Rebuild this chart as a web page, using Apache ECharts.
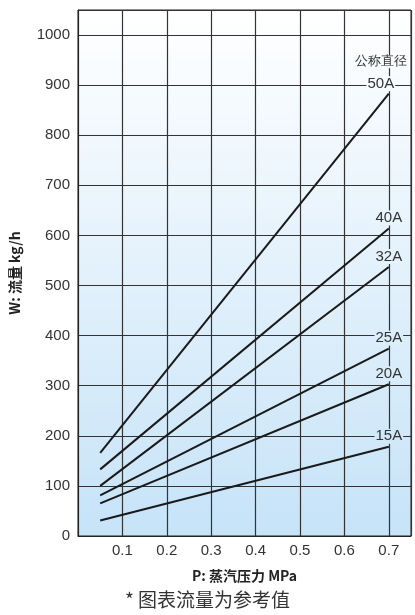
<!DOCTYPE html>
<html>
<head>
<meta charset="utf-8">
<script src="https://cdn.jsdelivr.net/npm/echarts@6/dist/echarts.min.js"></script>
<style>
  html, body { margin: 0; padding: 0; background: #fff; }
  #main { width: 415px; height: 615px; }
</style>
</head>
<body>
<div id="main"></div>
<script>
// pressure points (MPa) where each curve starts / ends
var pressure = [0.05, 0.7];
// flow (kg/h) per nominal diameter, read at the two pressures
var sizes = ['50A', '40A', '32A', '25A', '20A', '15A'];
var flow50 = [166, 883];
var flow40 = [133, 614];
var flow32 = [100, 537];
var flow25 = [81, 374];
var flow20 = [65, 303];
var flow15 = [31, 178];
var flows = [flow50, flow40, flow32, flow25, flow20, flow15];

var yMax = 1050;
var topColor = [255, 255, 255];
var bottomColor = [198, 227, 248];

// background colour of the plot at a given flow value (for label patches)
function bgAt(v) {
    var f = 1 - v / yMax; // 0 at top, 1 at bottom
    var c = topColor.map(function (t, i) {
        return Math.round(t + (bottomColor[i] - t) * f);
    });
    return 'rgb(' + c.join(',') + ')';
}

var chart = echarts.init(document.getElementById('main'));

var series = sizes.map(function (name, i) {
    var vals = flows[i];
    var last = vals[vals.length - 1];
    var label;
    if (name === '50A') {
        label = {
            show: true,
            position: 'top',
            distance: 0,
            offset: [-8, 0],
            formatter: '{t|公称直径}\n{n|50A}',
            rich: {
                t: { fontSize: 13, lineHeight: 24, color: '#333', backgroundColor: bgAt(last + 45), padding: [0, 1] },
                n: { fontSize: 15, lineHeight: 20, color: '#333', backgroundColor: bgAt(last + 20), padding: [0, 1] }
            }
        };
    } else {
        label = {
            show: true,
            position: 'top',
            distance: 3,
            formatter: name,
            fontSize: 15,
            color: '#333',
            backgroundColor: bgAt(last + 20),
            padding: [0, 1]
        };
    }
    var data = vals.map(function (v, j) {
        if (j === vals.length - 1) {
            return { value: [pressure[j], v], label: label };
        }
        return [pressure[j], v];
    });
    return {
        name: name,
        type: 'line',
        data: data,
        symbol: 'circle',
        symbolSize: 0,
        showSymbol: true,
        silent: true,
        animation: false,
        lineStyle: { color: '#1a1a1a', width: 2 },
        itemStyle: { color: '#1a1a1a' },
        label: { show: false }
    };
});

var option = {
    animation: false,
    title: {
        text: '* 图表流量为参考值',
        left: 'center',
        bottom: 1,
        textStyle: { fontSize: 19, fontWeight: 'normal', color: '#333', fontFamily: 'Noto Sans CJK SC' }
    },
    grid: {
        left: 75,
        right: 4,
        top: 10,
        bottom: 79,
        show: true,
        borderColor: '#222',
        borderWidth: 1,
        backgroundColor: new echarts.graphic.LinearGradient(0, 0, 0, 1, [
            { offset: 0, color: 'rgb(' + topColor.join(',') + ')' },
            { offset: 1, color: 'rgb(' + bottomColor.join(',') + ')' }
        ])
    },
    xAxis: {
        type: 'value',
        min: 0,
        max: 0.75,
        interval: 0.1,
        name: 'P: 蒸汽压力 MPa',
        nameLocation: 'middle',
        nameGap: 33,
        nameTextStyle: { fontSize: 14, fontWeight: 'bold', color: '#222', fontFamily: 'Noto Sans CJK SC' },
        axisLine: { show: true, lineStyle: { color: '#222', width: 1 } },
        axisTick: { show: false },
        axisLabel: {
            fontSize: 15, color: '#333', margin: 7,
            showMinLabel: false, showMaxLabel: false,
            fontFamily: 'Liberation Sans'
        },
        splitLine: { show: true, lineStyle: { color: '#333', width: 1.2 } }
    },
    yAxis: {
        type: 'value',
        min: 0,
        max: yMax,
        interval: 100,
        name: 'W: 流量 kg/h',
        nameLocation: 'middle',
        nameGap: 56,
        nameTextStyle: { fontSize: 14, fontWeight: 'bold', color: '#222', fontFamily: 'Noto Sans CJK SC' },
        axisLine: { show: true, lineStyle: { color: '#222', width: 1 } },
        axisTick: { show: false },
        axisLabel: {
            fontSize: 15, color: '#333', margin: 8,
            showMaxLabel: false,
            fontFamily: 'Liberation Sans',
            formatter: function (v) { return String(v); }
        },
        splitLine: { show: true, lineStyle: { color: '#333', width: 1.2 } }
    },
    series: series
};

chart.setOption(option);
</script>
</body>
</html>
